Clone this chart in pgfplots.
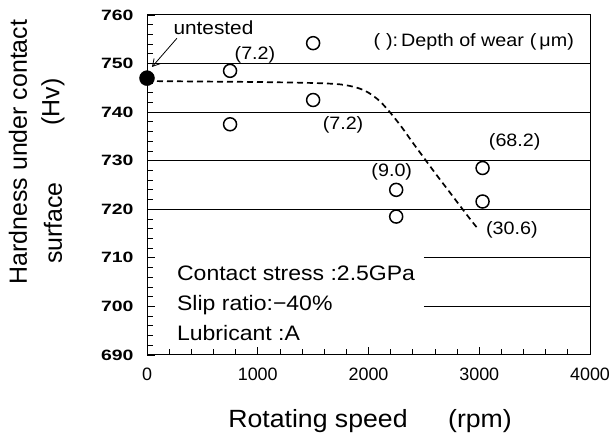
\documentclass[border=0pt]{standalone}
\usepackage{fontspec}
\setmainfont{Liberation Sans}
\newfontfamily\widefont[FakeStretch=1.3]{Liberation Sans}
\newfontfamily\anfont[FakeStretch=1.1]{Liberation Sans}
\newfontfamily\labfont[FakeStretch=1.07]{Liberation Sans}
\usepackage{pgfplots}
\pgfplotsset{compat=1.18}
\usetikzlibrary{arrows.meta}
\begin{document}
\begin{tikzpicture}[x=1bp,y=1bp]
\begin{axis}[
  at={(0,0)}, anchor=south west,
  scale only axis, width=443bp, height=340bp,
  xmin=0, xmax=4000, ymin=690, ymax=760,
  xtick={0,1000,2000,3000,4000},
  ytick={690,700,...,760},
  minor x tick num=4, minor y tick num=4,
  xtick pos=bottom, ytick pos=left,
  tick align=inside,
  major tick length=8bp, minor tick length=6bp,
  axis line style={line width=1pt},
  tick style={line width=0.8pt, black},
  /pgf/number format/assume math mode=true,
  /pgf/number format/1000 sep={},
  yticklabel style={font=\widefont\fontsize{15}{16}\selectfont\bfseries, xshift=-10bp},
  xticklabel style={font=\fontsize{18}{20}\selectfont, yshift=-9bp},
  clip=false,
]
% grid lines
\addplot[black, line width=0.8pt] coordinates {(0,750) (4000,750)};
\addplot[black, line width=0.8pt] coordinates {(0,740) (4000,740)};
\addplot[black, line width=0.8pt] coordinates {(0,730) (4000,730)};
\addplot[black, line width=0.8pt] coordinates {(0,720) (4000,720)};
\addplot[black, line width=0.8pt] coordinates {(2500,710) (4000,710)};
\addplot[black, line width=0.8pt] coordinates {(2500,700) (4000,700)};
% dashed trend
\addplot[black, line width=1.7pt, dash pattern=on 6bp off 4bp, smooth, tension=0.5] coordinates {
 (0,746.4) (500,746.3) (1000,746.2) (1500,746.0) (1750,745.7) (1900,745.0)
 (2000,744.0) (2100,742.3) (2200,739.8) (2300,736.9) (2400,733.7)
 (2500,730.6) (2600,727.5) (2700,724.5) (2800,721.5) (2900,718.5) (2980,716.2)};
% data
\addplot[only marks, mark=o, mark size=6.5bp, mark options={line width=1.5pt, black, fill=white}] coordinates {
 (750,748.5) (750,737.5) (1500,754.2) (1500,742.5)
 (2250,724.0) (2250,718.5) (3030,728.5) (3030,721.6)};
\addplot[only marks, mark=*, mark size=7.5bp, mark options={black}] coordinates {(0,747)};
% annotations
\draw[-{Straight Barb[length=7bp,width=8bp]}, line width=0.8pt] (axis cs:270,755.2) -- (axis cs:45,749.3);
\node[font=\anfont\fontsize{19}{20}\selectfont] at (axis cs:600,757.4) {untested};
\node[font=\anfont\fontsize{18}{20}\selectfont] at (axis cs:975,751.8) {(7.2)};
\node[font=\anfont\fontsize{18}{20}\selectfont] at (axis cs:1770,737.4) {(7.2)};
\node[font=\anfont\fontsize{18}{20}\selectfont] at (axis cs:2210,727.8) {(9.0)};
\node[font=\anfont\fontsize{18}{20}\selectfont] at (axis cs:3320,733.9) {(68.2)};
\node[font=\anfont\fontsize{18}{20}\selectfont] at (axis cs:3295,715.7) {(30.6)};
\node[font=\anfont\fontsize{18}{20}\selectfont] at (axis cs:2950,754.4) {(\,\,):\,Depth of wear\,\,(\,μm)};
\node[anchor=west, font=\anfont\fontsize{21}{24}\selectfont, inner sep=0pt] at (axis cs:270,706.9) {Contact stress :2.5GPa};
\node[anchor=west, font=\anfont\fontsize{21}{24}\selectfont, inner sep=0pt] at (axis cs:270,700.3) {Slip ratio:−40\%};
\node[anchor=west, font=\anfont\fontsize{21}{24}\selectfont, inner sep=0pt] at (axis cs:270,694.5) {Lubricant :A};
\end{axis}
% axis labels
\node[font=\labfont\fontsize{25}{28}\selectfont] at (171,-66) {Rotating speed};
\node[font=\labfont\fontsize{25}{28}\selectfont] at (333,-66) {(rpm)};
\node[rotate=90, font=\fontsize{25}{28}\selectfont] at (-129,203) {Hardness under contact};
\node[rotate=90, font=\fontsize{25}{28}\selectfont] at (-94,132) {surface};
\node[rotate=90, font=\fontsize{25}{28}\selectfont] at (-94,253) {(Hv)};
\pgfresetboundingbox
\path (-147,-82) rectangle (467,355);
\end{tikzpicture}
\end{document}
